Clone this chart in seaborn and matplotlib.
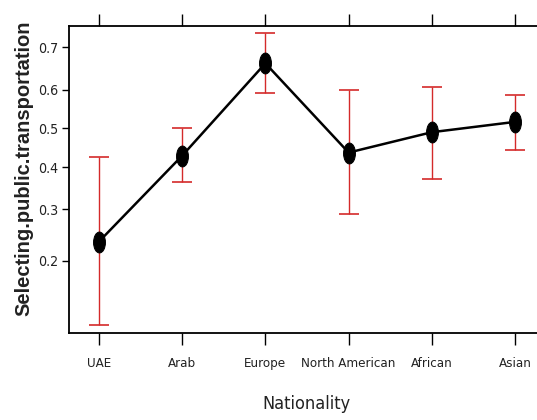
import numpy as np
import pandas as pd
import matplotlib
matplotlib.use("Agg")
import matplotlib.pyplot as plt
from matplotlib import font_manager as fm
from matplotlib.path import Path
import seaborn as sns

nationality = ["UAE", "Arab", "Europe", "North American", "African", "Asian"]
fit = [0.234, 0.429, 0.664, 0.437, 0.490, 0.517]
lower = [0.113, 0.362, 0.591, 0.290, 0.370, 0.443]
upper = [0.426, 0.500, 0.731, 0.600, 0.607, 0.586]
yticks = [0.2, 0.3, 0.4, 0.5, 0.6, 0.7]

df = pd.DataFrame({"Nationality": nationality, "fit": fit})

sns.set_style("white")

names = {f.name for f in fm.fontManager.ttflist}
if "Liberation Sans Narrow" in names:
    narrow_kw = dict(fontfamily=["Liberation Sans Narrow", "DejaVu Sans"])
    tsize = 10.5
elif any(f.name == "DejaVu Sans" and f.stretch == "condensed" for f in fm.fontManager.ttflist):
    narrow_kw = dict(fontfamily=["DejaVu Sans"], fontstretch="condensed")
    tsize = 9.5
else:
    narrow_kw = dict(fontfamily=["Liberation Sans", "DejaVu Sans"])
    tsize = 9.5

fig = plt.figure(figsize=(5.37, 4.20), dpi=100)
W, H = 537, 420
left, right, top, bottom = 69, 545, 26, 333
ax = fig.add_axes([left / W, 1 - bottom / H, (right - left) / W, (bottom - top) / H])

# elliptical marker
circ = Path.unit_circle()
ell = Path(circ.vertices * np.array([0.57, 1.0]), circ.codes)

x = np.arange(len(nationality))
sns.lineplot(data=df, x=x, y="fit", ax=ax,
             color="black", linewidth=1.8, marker=ell, markersize=15,
             markeredgecolor="black", markerfacecolor="black", zorder=3)

ax.errorbar(x, fit, yerr=[np.array(fit) - np.array(lower), np.array(upper) - np.array(fit)],
            fmt="none", ecolor="#d42a2a", elinewidth=1.0, capsize=7.2, capthick=1.2, zorder=2)

ax.set_yscale("logit")
ax.set_ylim(0.105, 0.745)
ax.set_xlim(-0.36, 5.36)
ax.set_yticks(yticks)
ax.set_yticklabels([f"{v:.1f}" for v in yticks], fontsize=tsize + 0.7, color="#222222", **narrow_kw)
ax.yaxis.set_minor_locator(matplotlib.ticker.NullLocator())
ax.yaxis.set_minor_formatter(matplotlib.ticker.NullFormatter())
ax.set_xticks(x)
ax.set_xticklabels(nationality, fontsize=tsize, color="#222222", **narrow_kw)

for s in ax.spines.values():
    s.set_color("black")
    s.set_linewidth(1.3)
ax.spines["right"].set_visible(False)

ax.tick_params(axis="x", which="major", direction="out", length=8.6, width=1.0,
               color="black", top=True, bottom=True, labeltop=False, pad=9)
ax.tick_params(axis="y", which="major", direction="out", length=4.8, width=1.0,
               color="black", left=True, right=False, pad=3)

ax.set_xlabel("Nationality", fontsize=tsize + 3.5, labelpad=18, color="#222222", **narrow_kw)
ax.set_ylabel("")
fig.text(24 / W, 1 - 168 / H, "Selecting.public.transportation", rotation=90,
         ha="center", va="center", fontfamily=["Liberation Sans", "DejaVu Sans"],
         fontsize=14.5, fontweight="bold", color="#222222")

fig.savefig("out.png", dpi=100)
